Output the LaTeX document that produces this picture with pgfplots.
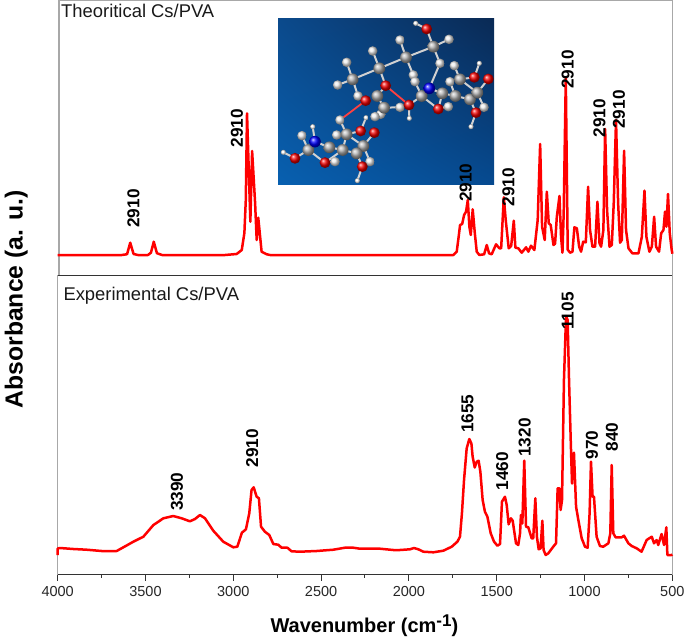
\documentclass[border=0pt]{standalone}
\usepackage{fontspec}
\setmainfont{Liberation Sans}
\usepackage{pgfplots}
\pgfplotsset{compat=1.18}
\usetikzlibrary{shadings}
\definecolor{specred}{HTML}{FF0000}
\definecolor{spine}{HTML}{A8A8A8}
\definecolor{darkline}{HTML}{333333}
\definecolor{bgll}{HTML}{0860B0}
\definecolor{bglr}{HTML}{064A90}
\definecolor{bgul}{HTML}{0B4A8C}
\definecolor{bgur}{HTML}{0A2A55}
\tikzset{
  peak/.style={rotate=90,inner sep=0pt,text=black,font=\fontsize{17.2}{17.2}\selectfont\bfseries},
  panel/.style={anchor=base west,inner sep=0pt,text=black!90,font=\fontsize{18.4}{18.4}\selectfont},
  bond/.style={line width=2pt,color=black!18},
  redbond/.style={line width=1.8pt,color=red!75!white}
}
\begin{document}
\begin{tikzpicture}
\path[use as bounding box] (0pt,0pt) rectangle (685pt,641pt);

% molecule inset, coordinates in px of the inset crop
\shade[lower left=bgll,lower right=bglr,upper left=bgul,upper right=bgur]
  (278pt,456pt) rectangle (494pt,622pt);
\begin{scope}[shift={(270pt,631pt)},x=0.3333pt,y=-0.3333pt]
  \foreach \a/\b/\c/\d in {248/208/328/175,328/175/408/142,408/142/490/110,490/110/470/57,470/57/437/40,
    490/110/537/88,490/110/510/160,510/160/478/235,408/142/390/90,408/142/430/195,328/175/308/123,328/175/347/227,
    248/208/230/157,248/208/203/225,248/208/264/258,264/258/287/272,347/227/322/258,322/258/342/293,342/293/390/292,
    342/293/332/313,342/293/315/320,210/330/230/373,417/285/455/258,417/285/418/325,455/258/478/235,455/258/505/297,
    455/258/435/215,478/235/517/250,517/250/556/258,556/258/600/268,600/268/622/248,540/215/556/258,570/208/553/167,
    570/208/613/202,613/202/628/160,622/248/570/208,622/248/655/207,622/248/642/292,600/268/618/308,618/308/603/350,
    505/297/535/290,517/250/505/297,230/373/272/363,272/363/288/323,230/373/200/375,230/373/218/420,218/420/178/412,
    178/412/135/395,135/395/128/350,135/395/115/420,115/420/96/377,115/420/75/445,75/445/40/427,115/420/165/458,
    165/458/218/420,165/458/195/455,218/420/260/430,260/430/280/408,280/408/230/373,280/408/313/368,260/430/277/470,
    277/470/262/512,280/408/300/455}
    \draw[bond] (\a,\b)--(\c,\d);
  \draw[redbond] (347,227)--(417,285);
  \draw[redbond] (287,272)--(210,330);
  \foreach \a/\b in {437/40,628/160,603/350,418/325,288/323,128/350,40/427,262/512}
    \shade[ball color=white] (\a,\b) circle (2.6pt);
  \foreach \a/\b in {230/157,203/225,308/123,390/90,537/88,510/160,430/195,435/215,264/258,390/292,332/313,315/320,
    210/330,200/375,96/377,195/455,300/455,540/215,553/167,535/290,642/292}
    \shade[ball color=white!92!black] (\a,\b) circle (4.8pt);
  \foreach \a/\b in {248/208,328/175,408/142,490/110,322/258,342/293,455/258,517/250,556/258,600/268,622/248,570/208,
    230/373,280/408,260/430,218/420,178/412,115/420}
    \shade[ball color=black!30] (\a,\b) circle (5.9pt);
  \foreach \a/\b in {470/57,347/227,287/272,417/285,505/297,613/202,655/207,618/308,272/363,313/368,165/458,75/445,277/470}
    \shade[ball color=red!95!black] (\a,\b) circle (5.4pt);
  \foreach \a/\b in {478/235,135/395}
    \shade[ball color=blue] (\a,\b) circle (5.8pt);
\end{scope}

% theoretical spectrum
\begin{axis}[
  at={(59pt,365.3pt)},anchor=south west,
  width=613.4pt,height=275.2pt,scale only axis,
  x dir=reverse,xmin=500,xmax=3992.6,ymin=0,ymax=275.2,
  xtick=\empty,ytick=\empty,clip=false,
  axis line style={color=spine,line width=1.3pt}
  ]
  \addplot[specred,line width=2.5pt,line join=round] coordinates {
    (4000,20.7) (3634,20.7) (3605,21.5) (3587,33) (3568,21.7) (3543,20.7) (3486,20.7) (3469,23) (3453,34) (3435,22.5)
    (3406,20.7) (3047,20.7) (2981,21.7) (2952,25.7) (2937,42.7) (2929,75.7) (2922,162.4) (2903,54) (2893,124.7)
    (2876,72.7) (2867,35.7) (2858,58) (2839,24) (2810,21.4) (2791,20.7)
    (1823,20.7) (1747,20.7) (1728,24) (1717,39) (1709,50.7) (1697,51.7) (1686,60.7) (1675,64) (1665,75.7) (1656,49)
    (1648,40.7) (1637,66.4) (1625,42.4) (1614,24) (1599,20.7) (1572,21.4) (1557,30.7) (1544,22.4) (1529,21.4)
    (1504,31.4) (1485,27.4) (1475,27.4) (1460,78.4) (1449,55.7) (1432,27.4) (1418,29.7) (1403,55) (1394,28)
    (1377,27.4) (1358,23) (1333,28.4) (1320,24) (1305,30) (1286,25.7) (1267,55.7) (1253,131.7) (1242,49)
    (1227,35.7) (1215,84) (1204,52.4) (1193,50.7) (1177,30.7) (1168,32) (1158,59) (1143,79.7) (1134,39) (1126,23)
    (1119,62) (1107,198) (1096,26) (1082,23) (1069,24) (1058,48.4) (1044,47.4) (1031,29) (1020,24) (1008,34)
    (993,33.4) (980,89) (969,45.7) (955,29) (940,29) (927,74) (915,32.4) (906,29) (893,45.7) (883,146.7) (872,65.7)
    (858,29) (845,30.7) (834,72.4) (821,155.7) (809,72.4) (798,33) (788,35.7) (775,125) (764,45.7) (750,27.4)
    (728,22.4) (693,22.4) (674,39) (659,85) (648,39) (631,24) (617,29) (604,59) (593,29) (576,24) (564,42.4)
    (551,45.7) (542,64) (534,49) (525,81.7) (515,42.4) (504,25.7) (500,22)
  };
  \node[panel] at (axis cs:3981,257.7) {Theoritical Cs/PVA};
  \node[peak] at (axis cs:3568,67.2) {2910};
  \node[peak] at (axis cs:2979,147.7) {2910};
  \node[peak] at (axis cs:1677,93) {2910};
  \node[peak] at (axis cs:1434,88.7) {2910};
  \node[peak] at (axis cs:1096,206.2) {2910};
  \node[peak] at (axis cs:916,157.7) {2910};
  \node[peak] at (axis cs:805,166.2) {2910};
\end{axis}

% experimental spectrum
\begin{axis}[
  at={(57.7pt,66.5pt)},anchor=south west,
  width=614.6pt,height=298.8pt,scale only axis,
  x dir=reverse,xmin=500,xmax=4000,ymin=0,ymax=298.8,
  xtick={500,1000,...,4000},ytick=\empty,minor x tick num=1,
  xtick pos=bottom,tick align=outside,
  major tick length=6pt,minor tick length=3pt,
  tick style={color=darkline,line width=1pt},
  /pgf/number format/assume math mode=true,
  /pgf/number format/1000 sep={},
  xticklabel style={font=\fontsize{14.5}{14.5}\selectfont,text=black!85,inner sep=1pt,yshift=-5pt},
  clip=false,
  axis line style={color=spine,line width=1.3pt},
  xlabel={\bfseries Wavenumber (cm\raisebox{6.5pt}{\fontsize{17}{17}\selectfont -1})},
  xlabel style={at={(axis description cs:0.499,-0.195)},anchor=base,inner sep=0pt,
    font=\fontsize{20}{20}\selectfont,text=black},
  ylabel={\bfseries Absorbance (a. u.)},
  ylabel style={at={(axis description cs:-0.057,0.921)},anchor=base,inner sep=0pt,
    font=\fontsize{24.7}{24.7}\selectfont,text=black},
  after end axis/.code={
    \draw[darkline,line width=1.3pt] (rel axis cs:0,0)--(rel axis cs:1,0);
    \draw[darkline,line width=1.3pt] (rel axis cs:0,1)--(rel axis cs:1,1);
  }
  ]
  \addplot[specred,line width=2.5pt,line join=round] coordinates {
    (4000,19.5) (4000,26) (3987,26.5) (3911,25.5) (3835,24.8) (3750,23.5) (3664,23.5) (3626,27.2) (3569,32.8)
    (3512,37.8) (3455,49.5) (3398,56.2) (3342,58.5) (3294,56.2) (3247,53.2) (3218,55.5) (3190,59.5) (3161,56.2)
    (3114,43.8) (3057,32.8) (3000,27.2) (2977,27.8) (2951,41.8) (2928,45.2) (2909,61.2) (2896,84.5) (2884,87.2)
    (2867,77.8) (2854,76.2) (2842,47.8) (2820,42.8) (2795,39.5) (2772,30.5) (2744,29.8) (2725,26.8) (2692,26.8)
    (2668,23.2) (2620,22.8) (2525,23.5) (2430,24.8) (2364,26.8) (2317,26.8) (2279,25.8) (2165,25.8) (2089,24.5)
    (2051,24.5) (1994,25.2) (1971,26.5) (1946,25.2) (1918,22.8) (1861,22.2) (1804,23.8) (1756,27.8) (1724,32.8)
    (1709,37.8) (1698,61) (1686,94.5) (1671,126) (1656,135.5) (1644,131) (1637,117.8) (1625,107) (1614,112.8)
    (1603,113.8) (1593,102.8) (1580,74.5) (1567,62.8) (1553,57.8) (1534,41.2) (1515,32.8) (1496,28.8) (1481,30.5)
    (1470,72.8) (1453,77.8) (1443,69.5) (1432,50.2) (1419,56.2) (1409,53.8) (1390,31.2) (1377,29.5) (1367,41.2)
    (1362,59.5) (1354,51) (1343,113.8) (1333,47.8) (1320,47.2) (1301,36.2) (1292,36.2) (1280,76.2) (1271,37.8)
    (1261,25.2) (1250,26.2) (1240,53.8) (1233,24.5) (1221,19.5) (1206,21.2) (1178,27.8) (1162,31.2) (1153,86.2)
    (1143,86.2) (1136,64.5) (1128,74.5) (1117,194.5) (1105,258.5) (1096,254.5) (1088,194.5) (1079,137.8) (1071,91)
    (1060,121.8) (1048,67.8) (1035,54.5) (1016,36.2) (997,27.8) (982,26.8) (971,61) (963,112.8) (954,77.8)
    (946,77.8) (931,37.8) (912,28.5) (893,27.8) (864,31.2) (853,41.2) (845,109.5) (836,41.2) (823,37.2) (788,37.2)
    (775,38.8) (750,31.2) (731,28.5) (703,26.2) (675,22.8) (646,34.5) (617,37.8) (604,31.2) (589,34.5) (580,29.5)
    (561,40.5) (547,29.5) (534,47.2) (528,19.5) (504,19.5) (500,20)
  };
  \node[panel] at (axis cs:3968,274.5) {Experimental Cs/PVA};
  \node[peak] at (axis cs:3321,82.8) {3390};
  \node[peak] at (axis cs:2893,126.5) {2910};
  \node[peak] at (axis cs:1667,160.7) {1655};
  \node[peak] at (axis cs:1468,103.5) {1460};
  \node[peak] at (axis cs:1340,137) {1320};
  \node[peak] at (axis cs:1096,263.5) {1105};
  \node[peak] at (axis cs:957,129.5) {970};
  \node[peak] at (axis cs:843,137.5) {840};
\end{axis}
\end{tikzpicture}
\end{document}
